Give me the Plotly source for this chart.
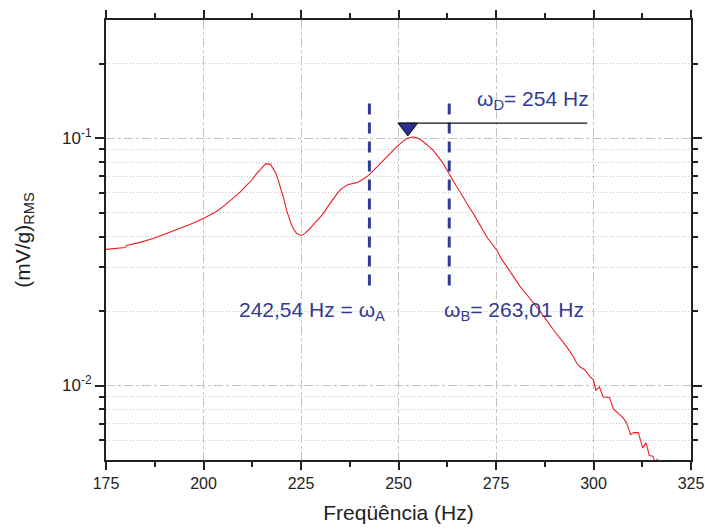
import math
import plotly.graph_objects as go

# ---------------- data ----------------
freq = [175.0, 177.5, 179.9, 180.3, 183.5, 187.1, 190.0, 193.1, 196.5, 200.0,
        203.4, 205.5, 207.6, 209.5, 211.1, 212.5, 213.6, 215.0, 216.0, 217.2,
        218.0, 218.6, 219.3, 220.0, 220.7, 221.3, 222.0, 222.6, 223.3, 223.9,
        225.0, 226.0, 227.1, 229.0, 230.7, 232.0, 233.3, 234.5, 235.4, 236.3,
        237.1, 238.5, 239.7, 241.0, 242.3, 243.8, 245.3, 246.6, 247.8, 248.9,
        249.9, 251.0, 252.1, 253.0, 254.0, 255.0, 255.9, 257.3, 258.9, 260.2,
        261.5, 262.6, 263.6, 264.7, 265.8, 267.0, 268.3, 269.2, 270.8, 272.6,
        273.9, 275.2, 276.4, 277.7, 279.5, 281.2, 283.3, 285.4, 287.5, 289.7,
        291.4, 293.1, 294.8, 295.7, 296.5, 297.8, 299.1, 300.0, 300.6, 301.5,
        302.5, 304.1, 305.1, 306.5, 307.6, 308.5, 309.5, 310.3, 311.5, 312.6,
        313.5, 314.3, 315.2, 315.8, 316.4, 316.8]
amp = [0.0355, 0.0358, 0.0361, 0.0368, 0.0378, 0.0393, 0.0408, 0.0425, 0.0447, 0.0473,
       0.0506, 0.0536, 0.0570, 0.0607, 0.0645, 0.0680, 0.0718, 0.0760, 0.0788, 0.0783,
       0.0750, 0.0718, 0.0665, 0.0615, 0.0560, 0.0510, 0.0472, 0.0444, 0.0424, 0.0411,
       0.0404, 0.0412, 0.0428, 0.0460, 0.0495, 0.0532, 0.0570, 0.0603, 0.0625, 0.0640,
       0.0649, 0.0656, 0.0665, 0.0683, 0.0707, 0.0745, 0.0788, 0.0827, 0.0865, 0.0900,
       0.0935, 0.0965, 0.0995, 0.1005, 0.1010, 0.0998, 0.0980, 0.0940, 0.0892, 0.0840,
       0.0788, 0.0735, 0.0686, 0.0645, 0.0605, 0.0560, 0.0519, 0.0495, 0.0446, 0.0399,
       0.0375, 0.0352, 0.0325, 0.0302, 0.0276, 0.0251, 0.0229, 0.0208, 0.0188, 0.0168,
       0.0156, 0.01436, 0.0131, 0.0123, 0.0119, 0.01156, 0.01087, 0.01054, 0.00955, 0.00986,
       0.00898, 0.00895, 0.00804, 0.00770, 0.00740, 0.00706, 0.00633, 0.00645, 0.00646, 0.00560,
       0.00586, 0.00521, 0.00518, 0.00490, 0.00504, 0.00480]

x_ticks = [175, 200, 225, 250, 275, 300, 325]
x_minor = [187.5, 212.5, 237.5, 262.5, 287.5, 312.5]
y_major = [0.01, 0.1]
y_major_text = ["10<sup>-2</sup>", "10<sup>-1</sup>"]
y_minor = [0.006, 0.007, 0.008, 0.009, 0.02, 0.03, 0.04, 0.05, 0.06, 0.07, 0.08, 0.09, 0.2]
x_range = [175, 325]
y_range = [0.005, 0.3]

omega_A = 242.54
omega_B = 263.01
omega_D = 254
marker_f = 252.4
marker_amp = 0.1104
peak_line_x = [249.9, 298.4]
peak_line_y = 0.1149
dash_y = [0.138, 0.0241]

label_A = "242,54 Hz = ω<sub>A</sub>"
label_B = "ω<sub>B</sub>= 263,01 Hz"
label_D = "ω<sub>D</sub>= 254 Hz"

FONT = "Liberation Sans, Arial, Helvetica, sans-serif"
BLUE = "#323c91"
GRID = "#c4c4c4"

fig = go.Figure()

fig.add_trace(go.Scatter(x=freq, y=amp, mode="lines",
                         line=dict(color="#ec1c24", width=1.1), hoverinfo="skip",
                         showlegend=False))

for f in (omega_A, omega_B):
    fig.add_trace(go.Scatter(x=[f, f], y=dash_y, mode="lines",
                             line=dict(color=BLUE, width=3, dash="11px,8px"),
                             showlegend=False, hoverinfo="skip"))

fig.add_trace(go.Scatter(x=peak_line_x, y=[peak_line_y, peak_line_y], mode="lines",
                         line=dict(color="#111111", width=1.3),
                         showlegend=False, hoverinfo="skip"))

fig.add_trace(go.Scatter(x=[marker_f], y=[marker_amp], mode="markers",
                         marker=dict(symbol="triangle-down", size=17, color="#2b3190",
                                     line=dict(color="#111111", width=1)),
                         showlegend=False, hoverinfo="skip"))

lg = math.log10
fig.add_annotation(x=269.6, y=-0.848, xref="x", yref="y", text=label_D,
                   showarrow=False, xanchor="left", yanchor="middle",
                   font=dict(family=FONT, size=21, color=BLUE))
fig.add_annotation(x=247.1, y=-1.70, xref="x", yref="y", text=label_A,
                   showarrow=False, xanchor="right", yanchor="middle",
                   font=dict(family=FONT, size=21, color=BLUE))
fig.add_annotation(x=261.1, y=-1.70, xref="x", yref="y", text=label_B,
                   showarrow=False, xanchor="left", yanchor="middle",
                   font=dict(family=FONT, size=21, color=BLUE))

fig.update_layout(
    width=705, height=529,
    margin=dict(l=106, r=14, t=20, b=69, autoexpand=False),
    paper_bgcolor="white", plot_bgcolor="white",
    font=dict(family=FONT, color="#222222"),
    showlegend=False,
)

fig.update_xaxes(
    range=x_range, tickmode="array", tickvals=x_ticks, automargin=False,
    ticks="outside", ticklen=8, tickwidth=2, tickcolor="#222",
    showline=True, linecolor="#222", linewidth=2, mirror="allticks",
    showgrid=True, gridcolor=GRID, griddash="dashdot", gridwidth=1,
    zeroline=False,
    tickfont=dict(family=FONT, size=16, color="#222"),
    minor=dict(tickmode="array", tickvals=x_minor,
               ticks="outside", ticklen=5, tickwidth=2, tickcolor="#222", showgrid=False),
    title=dict(text="Freqüência (Hz)", font=dict(family=FONT, size=21, color="#222"),
               standoff=14),
)

fig.update_yaxes(
    type="log", range=[lg(y_range[0]), lg(y_range[1])], automargin=False,
    tickmode="array", tickvals=y_major, ticktext=y_major_text,
    ticks="outside", ticklen=9, tickwidth=2, tickcolor="#222",
    showline=True, linecolor="#222", linewidth=2, mirror="allticks",
    showgrid=True, gridcolor=GRID, griddash="dashdot", gridwidth=1,
    zeroline=False,
    tickfont=dict(family=FONT, size=17, color="#222"),
    minor=dict(tickmode="array", tickvals=y_minor,
               ticks="outside", ticklen=5, tickwidth=2, tickcolor="#222",
               showgrid=True, gridcolor=GRID, griddash="1px,2px", gridwidth=1),
    title=dict(text="(mV/g)<sub>RMS</sub>", font=dict(family=FONT, size=21, color="#222"),
               standoff=26),
)

fig.write_html("out.html")
